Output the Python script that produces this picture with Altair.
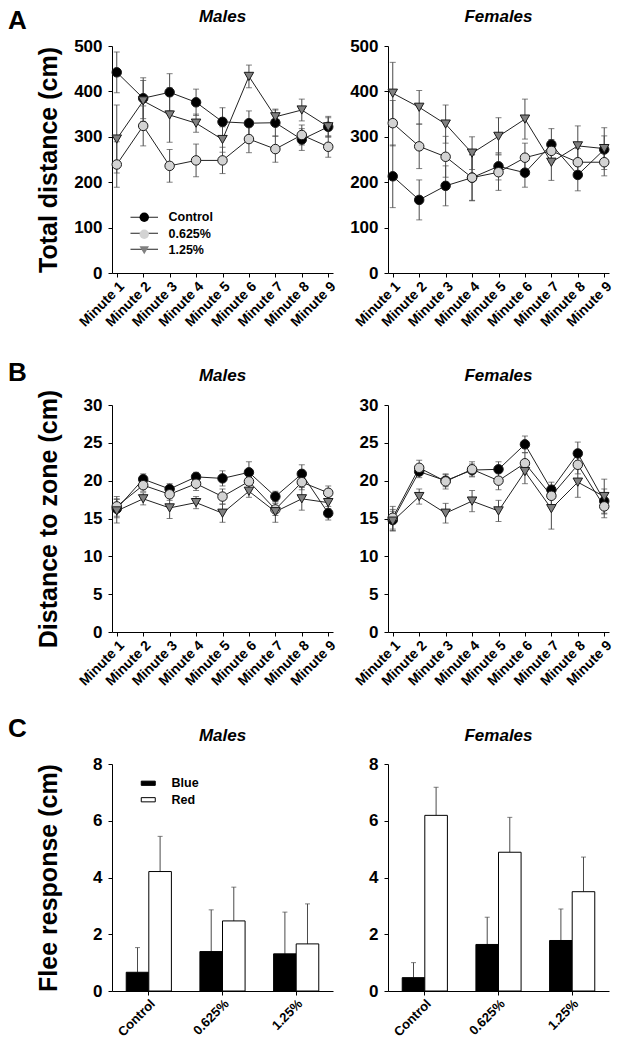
import altair as alt
import pandas as pd

FONT = "Liberation Sans"

# ---------------- data ----------------
minutes = ["Minute 1", "Minute 2", "Minute 3", "Minute 4", "Minute 5",
           "Minute 6", "Minute 7", "Minute 8", "Minute 9"]
series = ["Control", "0.625%", "1.25%"]
panel_letters = ["A", "B", "C"]
panel_titles = ["Males", "Females"]
y_titles = ["Total distance (cm)", "Distance to zone (cm)", "Flee response (cm)"]

# Panel A: total distance (mean, SEM)
m_td_ctrl = [442, 385, 398, 376, 333, 330, 331, 294, 322]
m_td_ctrl_se = [45, 45, 41, 29, 31, 27, 30, 24, 23]
m_td_low = [239, 324, 236, 248, 248, 295, 273, 304, 278]
m_td_low_se = [50, 44, 36, 36, 29, 30, 29, 22, 23]
m_td_high = [295, 379, 348, 330, 294, 433, 344, 359, 322]
m_td_high_se = [75, 45, 60, 20, 28, 25, 15, 24, 20]

f_td_ctrl = [213, 161, 192, 210, 235, 221, 283, 216, 272]
f_td_ctrl_se = [69, 44, 44, 51, 30, 32, 35, 35, 30]
f_td_low = [330, 279, 256, 210, 222, 254, 269, 244, 244]
f_td_low_se = [50, 49, 45, 50, 40, 32, 25, 30, 30]
f_td_high = [396, 365, 328, 264, 301, 339, 244, 280, 274]
f_td_high_se = [68, 37, 42, 36, 41, 44, 40, 44, 46]

# Panel B: distance to zone (mean, SEM)
m_dz_ctrl = [16.3, 20.2, 18.9, 20.5, 20.3, 21.1, 17.9, 20.9, 15.7]
m_dz_ctrl_se = [1.2, 0.7, 0.7, 0.6, 1.0, 1.4, 0.7, 1.2, 0.9]
m_dz_low = [16.6, 19.4, 18.2, 19.6, 17.9, 19.9, 16.2, 19.8, 18.4]
m_dz_low_se = [1.3, 0.8, 0.8, 0.9, 1.0, 1.0, 0.8, 1.0, 0.9]
m_dz_high = [16.0, 17.6, 16.4, 17.1, 15.7, 18.6, 15.9, 17.6, 17.1]
m_dz_high_se = [1.6, 0.8, 1.4, 0.8, 1.2, 0.8, 1.4, 1.5, 0.8]

f_dz_ctrl = [14.8, 21.2, 20.0, 21.4, 21.5, 24.8, 18.8, 23.6, 17.3]
f_dz_ctrl_se = [1.4, 0.8, 0.8, 0.8, 1.0, 1.1, 1.0, 1.5, 1.6]
f_dz_low = [15.1, 21.7, 19.9, 21.5, 20.0, 22.3, 18.0, 22.1, 16.6]
f_dz_low_se = [1.5, 1.0, 1.0, 1.0, 1.2, 1.4, 1.4, 1.2, 1.5]
f_dz_high = [14.65, 17.9, 15.7, 17.3, 16.0, 21.2, 16.3, 19.8, 17.9]
f_dz_high_se = [1.3, 1.0, 1.3, 1.4, 1.4, 1.6, 2.7, 2.0, 2.3]

# Panel C: flee response (mean, SEM)
groups = ["Control", "0.625%", "1.25%"]
stims = ["Blue", "Red"]
m_blue = [0.66, 1.39, 1.31]
m_blue_se = [0.87, 1.47, 1.47]
m_red = [4.21, 2.47, 1.66]
m_red_se = [1.24, 1.19, 1.41]
f_blue = [0.47, 1.64, 1.78]
f_blue_se = [0.53, 0.96, 1.11]
f_red = [6.19, 4.89, 3.50]
f_red_se = [0.99, 1.23, 1.22]


def line_df(means, sems):
    rows = []
    for s, m, e in zip(series, means, sems):
        for mi, v, se in zip(minutes, m, e):
            rows.append({"minute": mi, "series": s, "series_l": s,
                         "mean": v, "lo": v - se, "hi": v + se})
    return pd.DataFrame(rows)


def bar_df(means, sems):
    rows = []
    for s, m, e in zip(stims, means, sems):
        for g, v, se in zip(groups, m, e):
            rows.append({"group": g, "stim": s, "mean": v, "hi": v + se})
    return pd.DataFrame(rows)


W, H = 221, 227
ERR = "#4a4a4a"
LETTER_X = -104


def y_axis(ymax, ystep, title):
    kw = dict(values=list(range(0, ymax + 1, ystep)), labelFontSize=17, labelFontWeight="bold",
              labelPadding=6, tickSize=4, minExtent=40, maxExtent=40, grid=False,
              domainColor="black", tickColor="black", labelColor="black")
    if title:
        kw.update(title=title, titleFontSize=25, titleFontWeight="bold", titlePadding=11,
                  titleColor="black")
    else:
        kw.update(title=None)
    return alt.Axis(**kw)


def decor_layers(title, letter, ly, ty):
    out = [alt.Chart(pd.DataFrame({"t": [title]})).mark_text(
        align="center", baseline="top", fontSize=17, fontWeight="bold",
        fontStyle="italic", font=FONT, color="black").encode(
        text="t:N", x=alt.value(W / 2), y=alt.value(ty))]
    if letter:
        out.append(alt.Chart(pd.DataFrame({"letter": [letter]})).mark_text(
            align="left", baseline="top", fontSize=26, fontWeight="bold", font=FONT,
            color="black").encode(text="letter:N", x=alt.value(LETTER_X), y=alt.value(ly)))
    return out


def line_panel(df, title, ytitle, ymax, ystep, letter=None, ly=0, ty=-36, legend=False):
    xenc = alt.X("minute:N", sort=minutes, scale=alt.Scale(type="point", padding=0.18),
                 axis=alt.Axis(title=None, labelAngle=-45, labelFontSize=14,
                               labelFontWeight="bold", tickSize=4, labelPadding=2,
                               labelOverlap=False, grid=False, domainColor="black",
                               tickColor="black", labelColor="black"))
    ysc = alt.Scale(domain=[0, ymax], nice=False)
    yax = y_axis(ymax, ystep, ytitle)
    base = alt.Chart(df)
    err = base.mark_rule(color=ERR, strokeWidth=1).encode(
        x=xenc, y=alt.Y("lo:Q", scale=ysc, axis=yax), y2="hi:Q", detail="series:N")
    cap_hi = base.mark_tick(color=ERR, size=6, thickness=1, orient="horizontal").encode(
        x=xenc, y=alt.Y("hi:Q", scale=ysc, axis=yax), detail="series:N")
    cap_lo = base.mark_tick(color=ERR, size=6, thickness=1, orient="horizontal").encode(
        x=xenc, y=alt.Y("lo:Q", scale=ysc, axis=yax), detail="series:N")
    if legend:
        line = base.mark_line(strokeWidth=1).encode(
            x=xenc, y=alt.Y("mean:Q", scale=ysc, axis=yax), detail="series:N",
            stroke=alt.Stroke("series_l:N", sort=series,
                              scale=alt.Scale(range=["#222222"] * 3),
                              legend=alt.Legend(orient="none", legendX=26, legendY=165, title=None,
                                                symbolType="M-2.9,0H2.9", symbolSize=90,
                                                symbolStrokeWidth=1, labelOpacity=0,
                                                labelFontSize=12.5, rowPadding=3,
                                                labelOffset=18, zindex=0, padding=0)))
        leg = alt.Legend(orient="none", legendX=26, legendY=165, title=None,
                         symbolSize=90, symbolStrokeColor="#1a1a1a", symbolStrokeWidth=1,
                         labelFont=FONT, labelFontSize=12.5, labelFontWeight="bold",
                         labelColor="black", rowPadding=3, labelOffset=18, zindex=1, padding=0)
    else:
        line = base.mark_line(color="#222222", strokeWidth=1).encode(
            x=xenc, y=alt.Y("mean:Q", scale=ysc, axis=yax), detail="series:N")
        leg = None
    pts = base.mark_point(filled=True, opacity=1, size=90, stroke="#1a1a1a", strokeWidth=1).encode(
        x=xenc, y=alt.Y("mean:Q", scale=ysc, axis=yax),
        shape=alt.Shape("series:N", scale=alt.Scale(domain=series,
                                                    range=["circle", "circle", "triangle-down"]),
                        legend=leg),
        fill=alt.Fill("series:N", scale=alt.Scale(domain=series,
                                                  range=["#000000", "#d3d3d3", "#808080"]),
                      legend=leg))
    layers = [err, cap_hi, cap_lo, line, pts] + decor_layers(title, letter, ly, ty)
    return alt.layer(*layers).properties(width=W, height=H)


def bar_panel(df, title, ytitle, letter=None, ly=0, ty=-36, legend=False):
    xenc = alt.X("group:N", sort=groups,
                 scale=alt.Scale(paddingInner=0.387, paddingOuter=0.193),
                 axis=alt.Axis(title=None, labelAngle=-45, labelFontSize=13,
                               labelFontWeight="bold", tickSize=4, labelPadding=2,
                               labelOverlap=False, grid=False, domainColor="black",
                               tickColor="black", labelColor="black"))
    xo = alt.XOffset("stim:N", sort=stims, scale=alt.Scale(paddingInner=0, paddingOuter=0))
    ysc = alt.Scale(domain=[0, 8], nice=False)
    yax = y_axis(8, 2, ytitle)
    if legend:
        leg = alt.Legend(orient="none", legendX=30, legendY=13, title=None,
                         symbolType="M-1.4,-0.42H1.4V0.42H-1.4Z", symbolSize=100,
                         symbolStrokeColor="black", symbolStrokeWidth=1,
                         labelFont=FONT, labelFontSize=12.5, labelFontWeight="bold",
                         labelColor="black", rowPadding=3.5, labelOffset=17, padding=0)
    else:
        leg = None
    base = alt.Chart(df)
    err = base.mark_rule(color=ERR, strokeWidth=1).encode(
        x=xenc, xOffset=xo, y=alt.Y("mean:Q", scale=ysc, axis=yax), y2="hi:Q")
    cap = base.mark_tick(color=ERR, size=5, thickness=1, orient="horizontal").encode(
        x=xenc, xOffset=xo, y=alt.Y("hi:Q", scale=ysc, axis=yax))
    bars = base.mark_bar(stroke="black", strokeWidth=1, opacity=1).encode(
        x=xenc, xOffset=xo, y=alt.Y("mean:Q", scale=ysc, axis=yax),
        fill=alt.Fill("stim:N", scale=alt.Scale(domain=stims, range=["#000000", "#ffffff"]),
                      legend=leg))
    layers = [err, cap, bars] + decor_layers(title, letter, ly, ty)
    return alt.layer(*layers).properties(width=W, height=H)


panels = [
    line_panel(line_df([m_td_ctrl, m_td_low, m_td_high], [m_td_ctrl_se, m_td_low_se, m_td_high_se]),
               panel_titles[0], y_titles[0], 500, 100, panel_letters[0], -38, ty=-37, legend=True),
    line_panel(line_df([f_td_ctrl, f_td_low, f_td_high], [f_td_ctrl_se, f_td_low_se, f_td_high_se]),
               panel_titles[1], None, 500, 100, ty=-37),
    line_panel(line_df([m_dz_ctrl, m_dz_low, m_dz_high], [m_dz_ctrl_se, m_dz_low_se, m_dz_high_se]),
               panel_titles[0], y_titles[1], 30, 5, panel_letters[1], -45, ty=-37),
    line_panel(line_df([f_dz_ctrl, f_dz_low, f_dz_high], [f_dz_ctrl_se, f_dz_low_se, f_dz_high_se]),
               panel_titles[1], None, 30, 5, ty=-37),
    bar_panel(bar_df([m_blue, m_red], [m_blue_se, m_red_se]), panel_titles[0], y_titles[2],
              panel_letters[2], -48, ty=-36, legend=True),
    bar_panel(bar_df([f_blue, f_red], [f_blue_se, f_red_se]), panel_titles[1], None, ty=-36),
]

indep = dict(fill="independent", shape="independent", stroke="independent")

chart = alt.concat(*panels, columns=2, spacing=alt.RowColnumber(row=132, column=55),
                   bounds="flush").resolve_scale(**indep).resolve_legend(**indep).properties(
    padding=0).configure_view(stroke=None).configure_axis(
    labelFont=FONT, titleFont=FONT).configure_legend(labelFont=FONT).configure_text(font=FONT)

chart.save("out.html", embed_options={"renderer": "svg", "actions": False})
